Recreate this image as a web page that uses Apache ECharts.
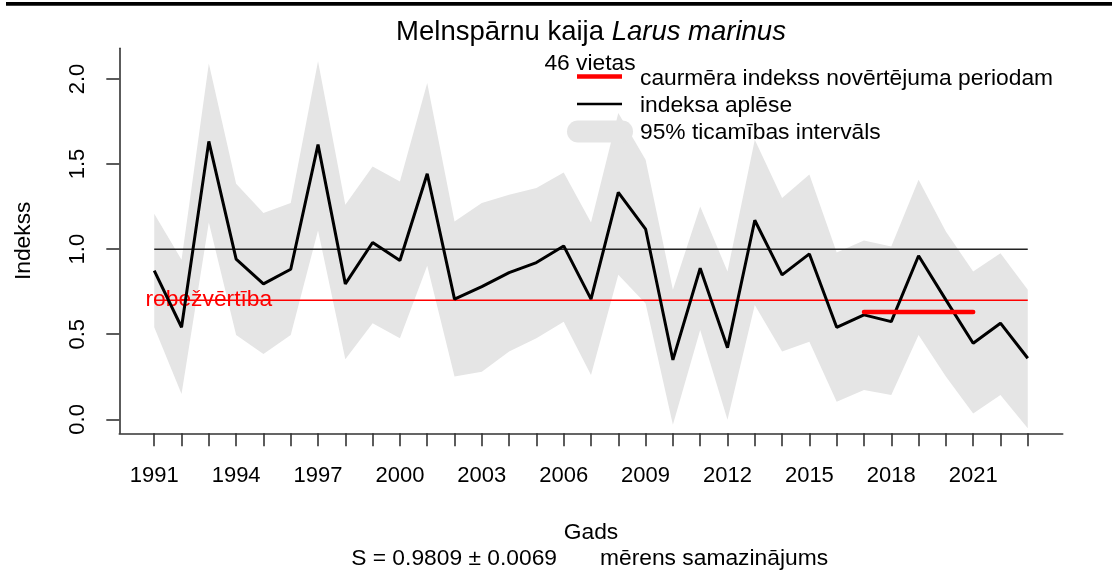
<!DOCTYPE html>
<html>
<head>
<meta charset="utf-8">
<script src="https://cdn.jsdelivr.net/npm/echarts@6/dist/echarts.min.js"></script>
<style>
  html, body { margin: 0; padding: 0; background: #ffffff; }
  #chart { width: 1116px; height: 573px; }
</style>
</head>
<body>
<div id="chart"></div>
<script>
// Survey years
const years = [1991, 1992, 1993, 1994, 1995, 1996, 1997, 1998, 1999, 2000, 2001,
               2002, 2003, 2004, 2005, 2006, 2007, 2008, 2009, 2010, 2011, 2012,
               2013, 2014, 2015, 2016, 2017, 2018, 2019, 2020, 2021, 2022, 2023];

// Yearly index estimate
const indexValues = [0.874, 0.541, 1.633, 0.941, 0.796, 0.882, 1.614, 0.796, 1.039, 0.933, 1.443,
                     0.706, 0.780, 0.862, 0.921, 1.019, 0.706, 1.333, 1.118, 0.349, 0.888, 0.421,
                     1.170, 0.849, 0.972, 0.541, 0.614, 0.574, 0.961, 0.702, 0.447, 0.565, 0.359];

// 95% confidence interval bounds
const lowerCI = [0.541, 0.149, 1.157, 0.496, 0.384, 0.496, 1.110, 0.353, 0.565, 0.476, 0.902,
                 0.251, 0.280, 0.398, 0.476, 0.574, 0.261, 0.849, 0.680, -0.032, 0.525, -0.002,
                 0.672, 0.398, 0.456, 0.104, 0.172, 0.143, 0.496, 0.251, 0.035, 0.143, -0.053];
const upperCI = [1.208, 0.937, 2.090, 1.384, 1.212, 1.271, 2.104, 1.261, 1.486, 1.398, 1.976,
                 1.162, 1.271, 1.319, 1.359, 1.451, 1.157, 1.800, 1.525, 0.761, 1.251, 0.868,
                 1.643, 1.300, 1.438, 0.980, 1.051, 1.015, 1.408, 1.104, 0.868, 0.976, 0.761];

// Mean index over the assessment period
const periodYears = [2017, 2021];
const periodMean = 0.63;

// Reference levels
const baselineLevel = 1.0;
const thresholdLevel = 0.7;
const thresholdLabelYear = 1993;

// Axis ticks and labels
const xTickYears = years;
const xLabelYears = [1991, 1994, 1997, 2000, 2003, 2006, 2009, 2012, 2015, 2018, 2021];
const yTickValues = [0, 0.5, 1, 1.5, 2];

const FONT = "'Liberation Sans', Arial, sans-serif";
const AXIS_COLOR = '#333333';
const BAND_COLOR = '#e5e5e5';
const TEXT_SIZE = 22.8;

const chart = echarts.init(document.getElementById('chart'), null, { renderer: 'canvas' });

const option = {
  backgroundColor: '#ffffff',
  animation: false,
  textStyle: { fontFamily: FONT },
  grid: {
    left: 119.3, right: 53.3, top: 48.3, bottom: 139.7,
    containLabel: false,
    outerBoundsMode: 'none'
  },
  xAxis: {
    type: 'value',
    min: 1989.72,
    max: 2024.28,
    name: 'Gads',
    nameLocation: 'middle',
    nameGap: 88,
    nameTextStyle: { fontFamily: FONT, fontSize: TEXT_SIZE, color: '#000' },
    axisLine: { show: true, onZero: false, lineStyle: { color: AXIS_COLOR, width: 1.6 } },
    axisTick: { show: true, length: 13, customValues: xTickYears, lineStyle: { color: AXIS_COLOR, width: 1.6 } },
    axisLabel: {
      customValues: xLabelYears,
      fontFamily: FONT, fontSize: 22, color: '#000', margin: 32,
      formatter: v => String(v)
    },
    splitLine: { show: false }
  },
  yAxis: {
    type: 'value',
    min: -0.082,
    max: 2.18,
    name: 'Indekss',
    nameLocation: 'middle',
    nameRotate: 90,
    nameGap: 84,
    nameMoveOverlap: false,
    nameTextStyle: { fontFamily: FONT, fontSize: TEXT_SIZE, color: '#000' },
    axisLine: { show: true, onZero: false, lineStyle: { color: AXIS_COLOR, width: 1.6 } },
    axisTick: { show: true, length: 13, customValues: yTickValues, lineStyle: { color: AXIS_COLOR, width: 1.6 } },
    axisLabel: {
      customValues: yTickValues,
      rotate: 90,
      fontFamily: FONT, fontSize: 22, color: '#000', margin: 30,
      formatter: v => v.toFixed(1)
    },
    splitLine: { show: false }
  },
  series: [
    {
      // confidence band as a filled polygon: upper edge forward, lower edge back
      type: 'custom',
      name: '95% ticamības intervāls',
      z: 1,
      silent: true,
      data: [[years[0], upperCI[0]]],
      renderItem: (params, api) => {
        if (params.dataIndex !== 0) return null;
        const pts = [];
        for (let i = 0; i < years.length; i++) pts.push(api.coord([years[i], upperCI[i]]));
        for (let i = years.length - 1; i >= 0; i--) pts.push(api.coord([years[i], lowerCI[i]]));
        return { type: 'polygon', shape: { points: pts }, style: { fill: BAND_COLOR, stroke: null } };
      }
    },
    {
      type: 'line',
      name: 'baseline',
      z: 2,
      silent: true,
      symbol: 'none',
      data: [[years[0], baselineLevel], [years[years.length - 1], baselineLevel]],
      lineStyle: { color: '#222222', width: 1.5 }
    },
    {
      type: 'scatter',
      name: 'thresholdLabel',
      z: 2,
      silent: true,
      symbolSize: 0,
      data: [[thresholdLabelYear, thresholdLevel]],
      label: {
        show: true, position: 'inside', formatter: 'robežvērtība',
        fontFamily: FONT, fontSize: TEXT_SIZE, color: '#ff0000',
        textBorderWidth: 0, textShadowBlur: 0, opacity: 1
      }
    },
    {
      type: 'line',
      name: 'robežvērtība',
      z: 3,
      silent: true,
      symbol: 'none',
      data: [[years[0], thresholdLevel], [years[years.length - 1], thresholdLevel]],
      lineStyle: { color: '#ff0000', width: 1.5 }
    },
    {
      type: 'line',
      name: 'indeksa aplēse',
      z: 4,
      silent: true,
      symbol: 'none',
      data: years.map((y, i) => [y, indexValues[i]]),
      lineStyle: { color: '#000000', width: 3 }
    },
    {
      type: 'line',
      name: 'caurmēra indekss novērtējuma periodam',
      z: 5,
      silent: true,
      symbol: 'none',
      data: periodYears.map(y => [y, periodMean]),
      lineStyle: { color: '#ff0000', width: 4.5, cap: 'round' }
    }
  ],
  graphic: [
    { type: 'line', z: 100, shape: { x1: 6, y1: 3.8, x2: 1112, y2: 3.8 }, style: { stroke: '#000', lineWidth: 3.7 } },
    {
      type: 'text', z: 100, x: 591, y: 32,
      style: {
        text: '{n|Melnspārnu kaija }{i|Larus marinus}',
        align: 'center', verticalAlign: 'middle',
        rich: {
          n: { fontFamily: FONT, fontSize: 27.5, fill: '#000' },
          i: { fontFamily: FONT, fontSize: 27.5, fontStyle: 'italic', fill: '#000' }
        }
      }
    },
    { type: 'text', z: 100, x: 590, y: 64, style: { text: '46 vietas', font: TEXT_SIZE + 'px ' + FONT, fill: '#000', align: 'center', verticalAlign: 'middle' } },
    // legend keys
    { type: 'line', z: 101, shape: { x1: 577, y1: 76.5, x2: 622, y2: 76.5 }, style: { stroke: '#ff0000', lineWidth: 4.5 } },
    { type: 'line', z: 101, shape: { x1: 577, y1: 104, x2: 622, y2: 104 }, style: { stroke: '#000', lineWidth: 2.5 } },
    { type: 'line', z: 99, shape: { x1: 578, y1: 131.5, x2: 622, y2: 131.5 }, style: { stroke: BAND_COLOR, lineWidth: 22, lineCap: 'round' } },
    { type: 'text', z: 101, x: 640, y: 79, style: { text: 'caurmēra indekss novērtējuma periodam', font: TEXT_SIZE + 'px ' + FONT, fill: '#000', align: 'left', verticalAlign: 'middle' } },
    { type: 'text', z: 101, x: 640, y: 106, style: { text: 'indeksa aplēse', font: TEXT_SIZE + 'px ' + FONT, fill: '#000', align: 'left', verticalAlign: 'middle' } },
    { type: 'text', z: 101, x: 640, y: 133, style: { text: '95% ticamības intervāls', font: TEXT_SIZE + 'px ' + FONT, fill: '#000', align: 'left', verticalAlign: 'middle' } },
    // trend summary under the axis title
    { type: 'text', z: 100, x: 557, y: 559, style: { text: 'S = 0.9809 ± 0.0069', font: TEXT_SIZE + 'px ' + FONT, fill: '#000', align: 'right', verticalAlign: 'middle' } },
    { type: 'text', z: 100, x: 600, y: 559, style: { text: 'mērens samazinājums', font: TEXT_SIZE + 'px ' + FONT, fill: '#000', align: 'left', verticalAlign: 'middle' } }
  ]
};

chart.setOption(option);
</script>
</body>
</html>
